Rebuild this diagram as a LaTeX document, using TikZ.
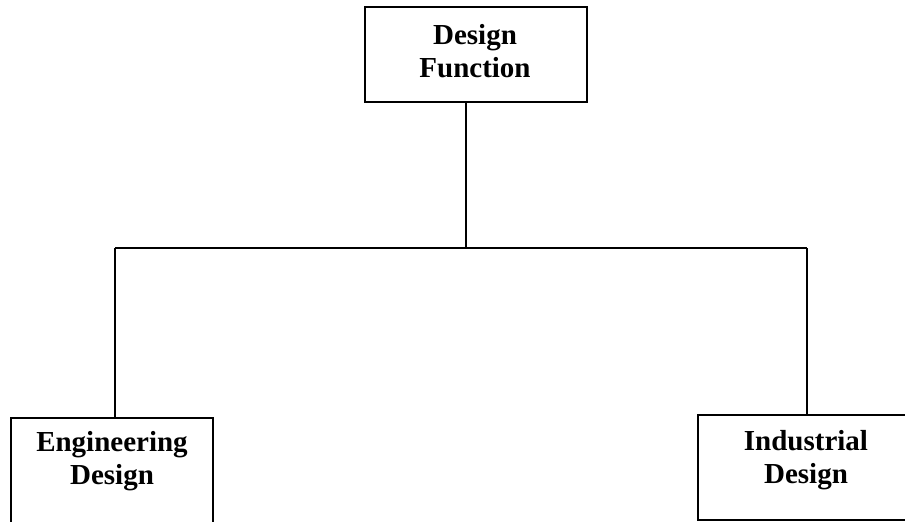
\documentclass[tikz,border=0pt]{standalone}
\usepackage{fontspec}
\setmainfont{Liberation Serif}
\usetikzlibrary{positioning,calc}
\tikzset{
   fnbox/.style={draw,rectangle,line width=1.8pt,inner sep=0pt},
   fntext/.style={align=center,inner sep=0pt,font=\bfseries\fontsize{29}{33}\selectfont},
   link/.style={-,line width=1.4pt},
}

\begin{document}
\begin{tikzpicture}[x=1pt,y=-1pt]
      \useasboundingbox (0,0) rectangle (905,522);
      \clip (0,0) rectangle (905,522);
      % boxes
      \node[fnbox,minimum width=222pt,minimum height=95pt] (dfbox) at (476,54.5) {};
      \node[fnbox,minimum width=202pt,minimum height=140pt] (edbox) at (112,488) {};
      \node[fnbox,minimum width=218pt,minimum height=105pt] (idbox) at (807,467.5) {};
      \node[fntext] (dftext) at (475,51.5) {Design\\Function};
      \node[fntext] (edtext) at (112,461.5) {Engineering\\Design};
      \node[fntext] (idtext) at (806,460.5) {Industrial\\Design};
      % branch points
      \coordinate (barm) at (466,248);
      \coordinate (barl) at (115,248);
      \coordinate (barr) at (807,248);
      \draw[link] (barm |- dfbox.south) -- (barm);
      \draw[link] (barl) -- (barr);
      \draw[link] (barl) -- (barl |- edbox.north);
      \draw[link] (barr) -- (barr |- idbox.north);
    \end{tikzpicture}
\end{document}
